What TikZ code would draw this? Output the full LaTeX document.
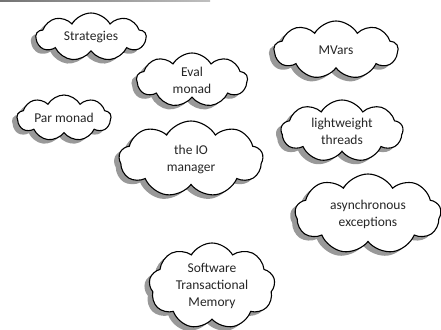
\documentclass[tikz,border=0pt]{standalone}
\usepackage{fontspec}
\setmainfont{Carlito}
\usetikzlibrary{shapes.symbols,shadows}
\tikzset{
  puff/.style={cloud, cloud puffs=9, cloud puff arc=120, cloud ignores aspect,
    draw=black, line width=1.1pt, fill=white, align=center, inner sep=0pt,
    font=\fontsize{13.5}{17}\selectfont, text=black!85,
    drop shadow={shadow xshift=-5pt, shadow yshift=-4pt, fill=black!40, opacity=1}}
}
\begin{document}
\begin{tikzpicture}[x=1pt,y=-1pt]
  \useasboundingbox (0,0) rectangle (441,329);
  \shade[left color=black!55, right color=black!25] (0,0) rectangle (210,1.5);
  \node[puff, minimum width=110pt, minimum height=48pt] (strat) at (91,37) {Strategies};
  \node[puff, minimum width=111pt, minimum height=54pt] (evalm) at (192,80) {Eval\\monad};
  \node[puff, minimum width=94pt, minimum height=46pt] (parm) at (64,118) {Par monad};
  \node[puff, minimum width=144pt, minimum height=76pt] (iomgr) at (191,159) {the IO\\manager};
  \node[puff, minimum width=124pt, minimum height=58pt] (mvars) at (336,50) {MVars};
  \node[puff, minimum width=122pt, minimum height=62pt] (threads) at (342,131) {lightweight\\threads};
  \node[puff, minimum width=146pt, minimum height=80pt] (asyncx) at (368,214) {asynchronous\\exceptions};
  \node[puff, minimum width=126pt, minimum height=86pt] (stm) at (212,286) {Software\\Transactional\\Memory};
\end{tikzpicture}
\end{document}
